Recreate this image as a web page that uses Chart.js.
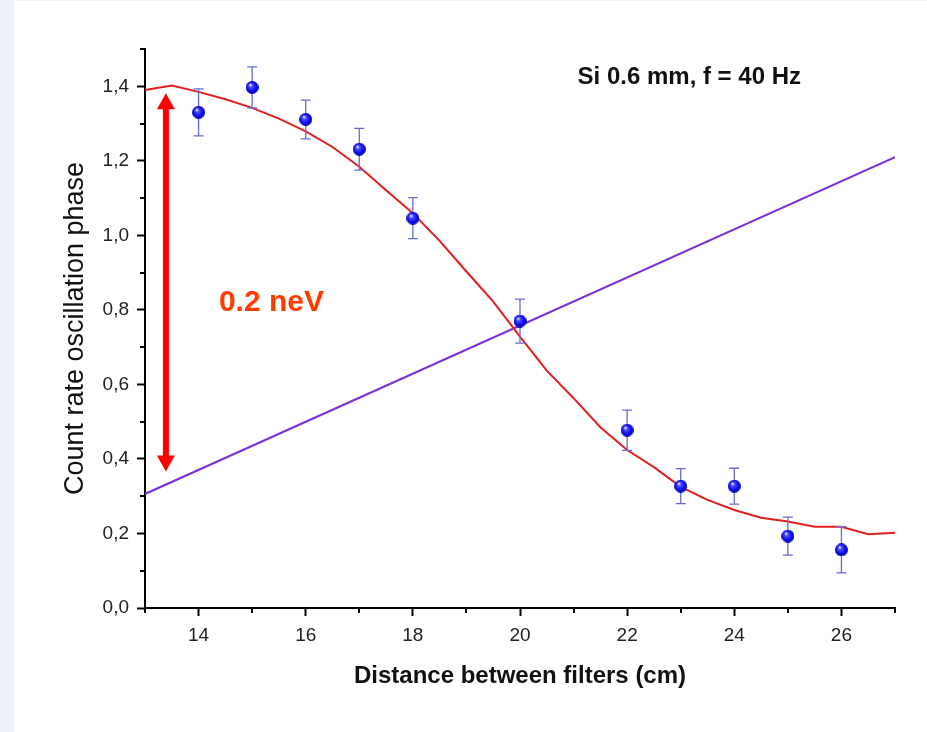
<!DOCTYPE html>
<html>
<head>
<meta charset="utf-8">
<script src="https://cdn.jsdelivr.net/npm/chart.js@4.4.1/dist/chart.umd.min.js"></script>
<style>
  html, body { margin: 0; padding: 0; background: #fff; }
  canvas { display: block; }
</style>
</head>
<body>
<canvas id="phase-chart" width="927" height="732"></canvas>
<script>
// measured phase vs distance
const distances = [14, 15, 16, 17, 18, 20, 22, 23, 24, 25, 26];
const phases = [1.330, 1.397, 1.311, 1.231, 1.046, 0.770, 0.477, 0.327, 0.327, 0.193, 0.156];
const phaseErrors = [0.063, 0.055, 0.052, 0.056, 0.055, 0.059, 0.054, 0.047, 0.048, 0.051, 0.062];

// fitted curve (red)
const fitX = [13, 13.5, 14, 14.5, 15, 15.5, 16, 16.5, 17, 17.5, 18, 18.5, 19, 19.5, 20,
  20.5, 21, 21.5, 22, 22.5, 23, 23.5, 24, 24.5, 25, 25.5, 26, 26.5, 27];
const fitY = [1.390, 1.402, 1.385, 1.365, 1.342, 1.313, 1.279, 1.237, 1.184, 1.121, 1.059,
  0.985, 0.903, 0.822, 0.728, 0.637, 0.563, 0.485, 0.424, 0.378, 0.325, 0.290, 0.263,
  0.242, 0.232, 0.218, 0.218, 0.198, 0.202];

// straight line (purple)
const lineX = [13, 27];
const lineY = [0.306, 1.210];

// axis ticks
const xTickValues = [14, 16, 18, 20, 22, 24, 26];
const yTickValues = [0, 0.2, 0.4, 0.6, 0.8, 1.0, 1.2, 1.4];

// annotations
const arrowX = 13.39;
const arrowFrom = 0.366;
const arrowTo = 1.381;
const energyLabel = '0.2 neV';
const energyLabelPos = [15.36, 0.818];
const sampleLabel = 'Si 0.6 mm, f = 40 Hz';
const sampleLabelPos = [23.16, 1.424];

const FONT = "'Liberation Sans', Arial, sans-serif";

const toPoints = (xs, ys) => xs.map((x, i) => ({ x, y: ys[i] }));

// little shaded ball used as the marker
const makeBall = size => {
  const c = document.createElement('canvas');
  c.width = size;
  c.height = size;
  const g = c.getContext('2d');
  const r = size / 2;
  const grad = g.createRadialGradient(r * 0.7, r * 0.6, 0.5, r, r, r);
  grad.addColorStop(0, '#f0f0ff');
  grad.addColorStop(0.22, '#5050ff');
  grad.addColorStop(0.7, '#0a0af0');
  grad.addColorStop(1, '#0000a8');
  g.fillStyle = grad;
  g.beginPath();
  g.arc(r, r, r, 0, Math.PI * 2);
  g.fill();
  return c;
};

const pageBackground = {
  id: 'pageBackground',
  beforeDraw(chart) {
    const ctx = chart.ctx;
    ctx.save();
    ctx.fillStyle = '#edf2fa';
    ctx.fillRect(0, 0, chart.width, chart.height);
    ctx.fillStyle = '#ffffff';
    ctx.fillRect(14, 1, chart.width - 14, chart.height - 1);
    ctx.restore();
  },
};

const minorTicks = {
  id: 'minorTicks',
  afterDraw(chart) {
    const { ctx, scales: { x, y } } = chart;
    ctx.save();
    ctx.strokeStyle = '#000';
    ctx.lineWidth = 2;
    ctx.beginPath();
    for (let v = 0.1; v <= y.max + 1e-9; v += 0.2) {
      const py = Math.round(y.getPixelForValue(v));
      ctx.moveTo(x.left - 5, py);
      ctx.lineTo(x.left, py);
    }
    for (let v = x.min; v <= x.max + 1e-9; v += 2) {
      const px = Math.round(x.getPixelForValue(v));
      ctx.moveTo(px, y.bottom);
      ctx.lineTo(px, y.bottom + 5);
    }
    ctx.stroke();
    ctx.restore();
  },
};

const errorBars = {
  id: 'errorBars',
  beforeDatasetDraw(chart, args) {
    if (args.index !== 0) return;
    const { ctx, scales: { x, y } } = chart;
    ctx.save();
    ctx.strokeStyle = '#6b6bd6';
    ctx.lineWidth = 1.3;
    ctx.beginPath();
    for (let i = 0; i < distances.length; i++) {
      const px = x.getPixelForValue(distances[i]);
      const top = y.getPixelForValue(phases[i] + phaseErrors[i]);
      const bot = y.getPixelForValue(phases[i] - phaseErrors[i]);
      ctx.moveTo(px, top);
      ctx.lineTo(px, bot);
      ctx.moveTo(px - 5, top);
      ctx.lineTo(px + 5, top);
      ctx.moveTo(px - 5, bot);
      ctx.lineTo(px + 5, bot);
    }
    ctx.stroke();
    ctx.restore();
  },
};

const annotations = {
  id: 'annotations',
  afterDatasetsDraw(chart) {
    const { ctx, scales: { x, y } } = chart;
    ctx.save();

    // double headed arrow
    const ax = x.getPixelForValue(arrowX);
    const top = y.getPixelForValue(arrowTo);
    const bot = y.getPixelForValue(arrowFrom);
    const head = 16;
    const half = 9;
    ctx.fillStyle = '#ff0000';
    ctx.fillRect(ax - 3, top + head - 1, 6, bot - top - 2 * head + 2);
    ctx.beginPath();
    ctx.moveTo(ax, top);
    ctx.lineTo(ax + half, top + head);
    ctx.lineTo(ax - half, top + head);
    ctx.closePath();
    ctx.moveTo(ax, bot);
    ctx.lineTo(ax + half, bot - head);
    ctx.lineTo(ax - half, bot - head);
    ctx.closePath();
    ctx.fill();

    ctx.textAlign = 'center';
    ctx.textBaseline = 'middle';
    ctx.fillStyle = '#ff3c00';
    ctx.font = 'bold 30px ' + FONT;
    ctx.fillText(energyLabel, x.getPixelForValue(energyLabelPos[0]), y.getPixelForValue(energyLabelPos[1]));

    ctx.fillStyle = '#111';
    ctx.font = 'bold 24px ' + FONT;
    ctx.fillText(sampleLabel, x.getPixelForValue(sampleLabelPos[0]), y.getPixelForValue(sampleLabelPos[1]));
    ctx.restore();
  },
};

const ctx = document.getElementById('phase-chart').getContext('2d');

const chart = new Chart(ctx, {
  type: 'scatter',
  data: {
    datasets: [
      {
        label: 'data',
        data: toPoints(distances, phases),
        pointStyle: makeBall(13),
        pointRadius: 6.5,
        pointHoverRadius: 6.5,
        showLine: false,
        order: 0,
      },
      {
        label: 'fit',
        type: 'line',
        data: toPoints(fitX, fitY),
        borderColor: '#e21e1e',
        borderWidth: 2,
        pointRadius: 0,
        tension: 0,
        fill: false,
        order: 1,
      },
      {
        label: 'line',
        type: 'line',
        data: toPoints(lineX, lineY),
        borderColor: '#7a30dc',
        borderWidth: 2,
        pointRadius: 0,
        tension: 0,
        fill: false,
        order: 2,
      },
    ],
  },
  options: {
    responsive: false,
    animation: false,
    devicePixelRatio: 1,
    layout: { padding: { top: 49, right: 32, bottom: 0, left: 0 } },
    plugins: {
      legend: { display: false },
      tooltip: { enabled: false },
    },
    scales: {
      x: {
        type: 'linear',
        min: 13,
        max: 27,
        afterFit: scale => { scale.height = 124; },
        afterBuildTicks: scale => { scale.ticks = xTickValues.map(value => ({ value })); },
        border: { color: '#000', width: 2 },
        grid: { drawOnChartArea: false, tickLength: 8, tickColor: '#000', tickWidth: 2 },
        ticks: {
          padding: 8,
          color: '#222',
          font: { family: FONT, size: 19 },
        },
        title: {
          display: true,
          text: 'Distance between filters (cm)',
          color: '#111',
          font: { family: FONT, size: 24, weight: 'bold' },
          padding: { top: 0, bottom: 41 },
        },
      },
      y: {
        type: 'linear',
        min: 0,
        max: 1.5,
        afterFit: scale => { scale.width = 145; },
        afterBuildTicks: scale => { scale.ticks = yTickValues.map(value => ({ value })); },
        border: { color: '#000', width: 2 },
        grid: { drawOnChartArea: false, tickLength: 8, tickColor: '#000', tickWidth: 2 },
        ticks: {
          padding: 8,
          color: '#222',
          font: { family: FONT, size: 19 },
          callback: v => v.toFixed(1).replace('.', ','),
        },
        title: {
          display: true,
          text: 'Count rate oscillation phase',
          color: '#111',
          font: { family: FONT, size: 27 },
          padding: { top: 59, bottom: 0 },
        },
      },
    },
  },
  plugins: [pageBackground, errorBars, annotations, minorTicks],
});
</script>
</body>
</html>
